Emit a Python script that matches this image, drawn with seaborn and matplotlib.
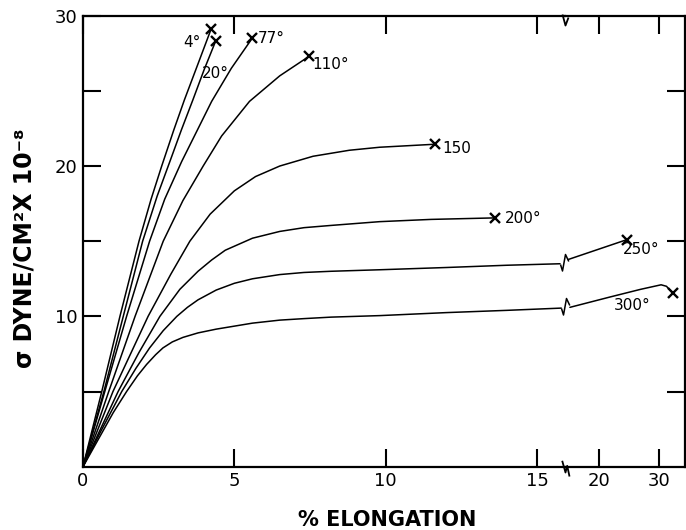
import numpy as np
import pandas as pd
import matplotlib
matplotlib.use("Agg")
import matplotlib.pyplot as plt
import seaborn as sns
from matplotlib.path import Path

# ---------------- data ----------------
temps = ["4°", "20°", "77°", "110°", "150", "200°", "250°", "300°"]

x_4 = [0, 0.62, 1.22, 1.85, 2.25, 2.6, 3.0, 3.35, 3.8, 4.23]
y_4 = [0, 5, 10, 15, 17.8, 20, 22.4, 24.4, 26.8, 29.1]
x_20 = [0, 0.69, 1.33, 1.97, 2.45, 2.87, 3.25, 3.63, 4.0, 4.38]
y_20 = [0, 5, 10, 15, 18.0, 20.3, 22.4, 24.4, 26.4, 28.3]
x_77 = [0, 0.72, 1.44, 2.2, 2.7, 3.26, 3.78, 4.25, 4.9, 5.59]
y_77 = [0, 5, 10, 15, 17.8, 20.3, 22.4, 24.3, 26.5, 28.5]
x_110 = [0, 0.85, 1.72, 2.65, 3.3, 3.97, 4.58, 5.5, 6.5, 7.47]
y_110 = [0, 5, 10, 15, 17.7, 20, 22.0, 24.3, 26.0, 27.3]
x_150 = [0, 0.99, 2.15, 2.9, 3.53, 4.2, 5.0, 5.7, 6.5, 7.6, 8.8, 9.8, 11.63]
y_150 = [0, 5, 10, 12.8, 15, 16.8, 18.35, 19.3, 20, 20.65, 21.05, 21.25, 21.45]
x_200 = [0, 0.6, 1.16, 1.85, 2.54, 3.2, 3.8, 4.25, 4.7, 5.6, 6.5, 7.3, 8.2, 9.8, 11.5, 13.6]
y_200 = [0, 2.6, 5, 7.6, 10, 11.8, 13.0, 13.75, 14.4, 15.2, 15.65, 15.9, 16.05, 16.3, 16.45, 16.55]
x_250 = [0, 0.6, 1.28, 1.75, 2.2, 2.65, 3.1, 3.45, 3.8, 4.4, 5.0, 5.6, 6.5, 7.3, 8.2, 9.8, 12, 14, 15.76]
y_250 = [0, 2.4, 5, 6.55, 7.9, 9.05, 10, 10.6, 11.1, 11.75, 12.2, 12.5, 12.78, 12.92, 13.0, 13.1, 13.25, 13.4, 13.5]
x_300 = [0, 0.5, 1.0, 1.44, 1.8, 2.1, 2.4, 2.64, 2.95, 3.3, 3.8, 4.4, 5.0, 5.6, 6.5, 7.3, 8.2, 9.8, 12, 14, 15.8]
y_300 = [0, 1.8, 3.6, 5.0, 6.05, 6.8, 7.45, 7.9, 8.3, 8.6, 8.9, 9.15, 9.35, 9.55, 9.75, 9.85, 9.95, 10.05, 10.25, 10.4, 10.55]

# values beyond the axis break (compressed scale)
x_250_b = [14.9, 24.67]
y_250_b = [13.78, 15.1]
x_300_b = [15.2, 22, 27, 30.4, 31.3, 32.3]
y_300_b = [10.6, 11.3, 11.8, 12.1, 12.0, 11.55]

x_ticks_a = [0, 5, 10, 15]
x_ticks_b = [20, 30]
y_ticks = [5, 10, 15, 20, 25, 30]
y_ticklabels = ["", "10", "", "20", "", "30"]

seg1 = {"4°": (x_4, y_4), "20°": (x_20, y_20), "77°": (x_77, y_77),
        "110°": (x_110, y_110), "150": (x_150, y_150), "200°": (x_200, y_200),
        "250°": (x_250, y_250), "300°": (x_300, y_300)}
seg2 = {"250°": (x_250_b, y_250_b), "300°": (x_300_b, y_300_b)}

df1 = pd.concat([pd.DataFrame({"elong": v[0], "stress": v[1], "temp": k})
                 for k, v in seg1.items()], ignore_index=True)
df2 = pd.concat([pd.DataFrame({"elong": v[0], "stress": v[1], "temp": k})
                 for k, v in seg2.items()], ignore_index=True)

# ---------------- style ----------------
sns.set_theme(style="ticks")
plt.rcParams["font.family"] = ["DejaVu Sans"]
plt.rcParams["text.color"] = "black"
plt.rcParams["axes.labelcolor"] = "black"
plt.rcParams["xtick.color"] = "black"
plt.rcParams["ytick.color"] = "black"

W, H = 686, 530
fig = plt.figure(figsize=(W / 100, H / 100), dpi=100)
bottom = 1 - 466.7 / H
height = (466.7 - 15.7) / H
ax1 = fig.add_axes([83 / W, bottom, (565 - 83) / W, height])
ax2 = fig.add_axes([565 / W, bottom, (685 - 565) / W, height])
for ax in (ax1, ax2):
    ax.patch.set_visible(False)

LW = 1.1
sns.lineplot(data=df1, x="elong", y="stress", units="temp", estimator=None,
             sort=False, color="black", lw=LW, ax=ax1, legend=False)
sns.lineplot(data=df2, x="elong", y="stress", units="temp", estimator=None,
             sort=False, color="black", lw=LW, ax=ax2, legend=False)

# break zig-zag on the broken curves (drawn at end of first segment)
zig = Path([(0, 0), (2.0, -6.5), (5, 10), (8.3, 3)],
           [Path.MOVETO, Path.LINETO, Path.LINETO, Path.LINETO])
for k in seg2:
    xs, ys = seg1[k]
    ax1.plot(xs[-1], ys[-1], marker=zig, ms=14.4, mfc="none", mec="black",
             mew=LW, ls="none", clip_on=False, zorder=5)

# end-of-test crosses and labels
label_style = {
    "4°": dict(xytext=(-14, -9.6), ha="center"),
    "20°": dict(xytext=(0, -23), ha="center"),
    "77°": dict(xytext=(4.3, 0), ha="left"),
    "110°": dict(xytext=(2.2, -5.8), ha="left"),
    "150": dict(xytext=(5, -3.2), ha="left"),
    "200°": dict(xytext=(7.2, -0.7), ha="left"),
    "250°": dict(xytext=(-2.9, -6.8), ha="left"),
    "300°": dict(xytext=(-29, -8.6), ha="center"),
}
for k in temps:
    ax = ax2 if k in seg2 else ax1
    xs, ys = seg2[k] if k in seg2 else seg1[k]
    ax.plot(xs[-1], ys[-1], marker="x", ms=7, mew=1.7, color="black",
            ls="none", clip_on=False, zorder=6)
    st = label_style[k]
    ax.annotate(k, (xs[-1], ys[-1]), xytext=st["xytext"],
                textcoords="offset points", ha=st["ha"], va="center",
                fontsize=11, color="black", annotation_clip=False)

# axes
for ax in (ax1, ax2):
    ax.set_ylim(0, 30)
    ax.set_xlabel("")
    ax.set_ylabel("")
    for s in ax.spines.values():
        s.set_linewidth(1.6)
        s.set_color("black")
ax1.set_xlim(0, (565 - 83) / 30.27)
ax2.set_xlim(20 - (598.7 - 565) / 6.0, 20 + (685 - 598.7) / 6.0)
ax1.spines["right"].set_visible(False)
ax2.spines["left"].set_visible(False)

ax1.set_xticks(x_ticks_a)
ax1.set_xticklabels([str(t) for t in x_ticks_a])
ax1.set_yticks(y_ticks)
ax1.set_yticklabels(y_ticklabels)
ax1.tick_params(axis="both", direction="in", length=13, width=1.5,
                top=True, right=False, labelsize=13, pad=4, colors="black")

ax2.set_xticks(x_ticks_b)
ax2.set_xticklabels([str(t) for t in x_ticks_b])
ax2.set_yticks(y_ticks[:-1])
ax2.tick_params(axis="both", direction="in", length=13, width=1.5,
                top=True, left=False, right=True, labelleft=False,
                labelright=False, labelsize=13, pad=4, colors="black")

# axis break marks on bottom and top spines
brk_b = Path([(-3.3, 6.7), (0, -5), (1.7, 1.7), (4, -9)],
             [Path.MOVETO, Path.LINETO, Path.LINETO, Path.LINETO])
brk_t = Path([(-3, 2), (0, -9), (3, -1)],
             [Path.MOVETO, Path.LINETO, Path.LINETO])
ax2.plot([0], [0], marker=brk_b, ms=13, mfc="none", mec="black", mew=1.3,
         transform=ax2.transAxes, clip_on=False, zorder=7)
ax2.plot([0], [1], marker=brk_t, ms=13, mfc="none", mec="black", mew=1.3,
         transform=ax2.transAxes, clip_on=False, zorder=7)

# axis titles
fig.text(387 / W, 1 - 520 / H, "% ELONGATION", ha="center", va="center",
         fontsize=15, fontweight="bold", color="black")
fig.text(25 / W, 1 - 248 / H, "σ DYNE/CM²X 10⁻⁸", ha="center", va="center",
         rotation=90, fontsize=17, fontweight="bold", color="black")

fig.savefig("out.png", dpi=100)
